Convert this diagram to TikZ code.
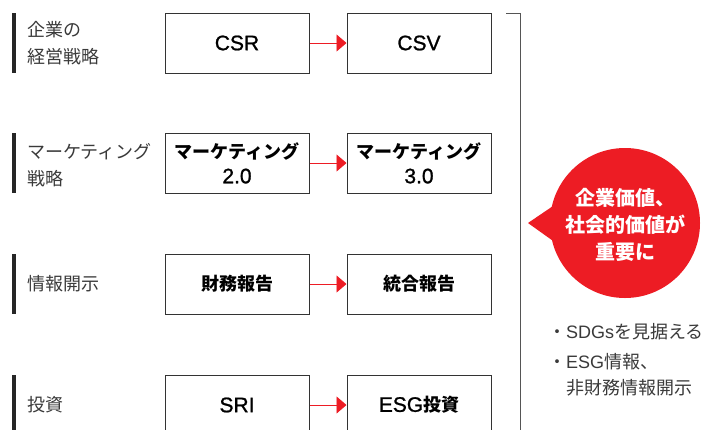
\documentclass[tikz,border=0pt]{standalone}
\usepackage{fontspec}
\setmainfont{Noto Sans CJK JP}
\newfontfamily\latf{Liberation Sans}
\newfontfamily\latm[FakeBold=1]{Liberation Sans}
\usetikzlibrary{arrows.meta}
\definecolor{jred}{HTML}{ED1C24}
\definecolor{labc}{HTML}{3A3A3A}
\definecolor{boxc}{HTML}{333333}
\definecolor{brk}{HTML}{555555}
\newcommand{\boxlat}[1]{{\latm\mdseries\fontsize{21}{25}\selectfont #1}}
\newcommand{\smlat}[1]{{\latf\fontsize{18}{27}\selectfont #1}}
\begin{document}
\begin{tikzpicture}[x=1pt,y=-1pt,
 box/.style={draw=boxc, line width=1pt, minimum width=144pt, minimum height=60pt, inner sep=0pt, align=center, font=\fontsize{18}{25}\selectfont\bfseries, text=black},
 lab/.style={anchor=west, align=left, font=\fontsize{18}{27}\selectfont, text=labc, inner sep=0pt},
 bar/.style={line width=3.5pt, draw=black!85},
 conn/.style={draw=jred, line width=0.9pt, -{Triangle[length=10pt,width=17pt]}},
 bul/.style={anchor=west, align=left, font=\fontsize{18}{26}\selectfont, text=labc, inner sep=0pt},
]
\useasboundingbox (0,0) rectangle (722,429);
\clip (0,0) rectangle (722,429);
\fill[white] (0,0) rectangle (722,429);

% bars
\draw[bar] (14,13) -- (14,73);
\draw[bar] (14,133) -- (14,193);
\draw[bar] (14,254) -- (14,314);
\draw[bar] (14,375) -- (14,440);

% left labels
\node[lab] (l1) at (27,43) {企業の\\経営戦略};
\node[lab] (l2) at (27,165) {マーケティング\\戦略};
\node[lab] (l3) at (27,284) {情報開示};
\node[lab] (l4) at (27,405) {投資};

% boxes
\node[box] (a1) at (237,43) {\boxlat{CSR}};
\node[box] (b1) at (419,43) {\boxlat{CSV}};
\node[box] (a2) at (237,163) {マーケティング\\\boxlat{2.0}};
\node[box] (b2) at (419,163) {マーケティング\\\boxlat{3.0}};
\node[box] (a3) at (237,284) {財務報告};
\node[box] (b3) at (419,284) {統合報告};
\node[box] (a4) at (237,405) {\boxlat{SRI}};
\node[box] (b4) at (419,405) {\boxlat{ESG}投資};

% arrows
\foreach \i in {1,2,3,4} {\draw[conn] (a\i) -- (b\i);}

% bracket
\draw[brk, line width=1pt] (506,13) -- (520,13) -- (520,440);

% bubble
\fill[jred] (625,223) circle (75);
\fill[jred] (528,223) -- (556,204) -- (556,243) -- cycle;
\node[font=\fontsize{20}{27}\selectfont\bfseries, text=white, align=center, inner sep=0pt] (bub) at (625,225) {企業価値、\\社会的価値が\\重要に};

% bullets
\node[bul] (t1) at (548,332) {・\smlat{SDGs}を見据える};
\node[bul] (t2) at (548,375) {・\smlat{ESG}情報、\\\hspace*{18pt}非財務情報開示};
\end{tikzpicture}
\end{document}
